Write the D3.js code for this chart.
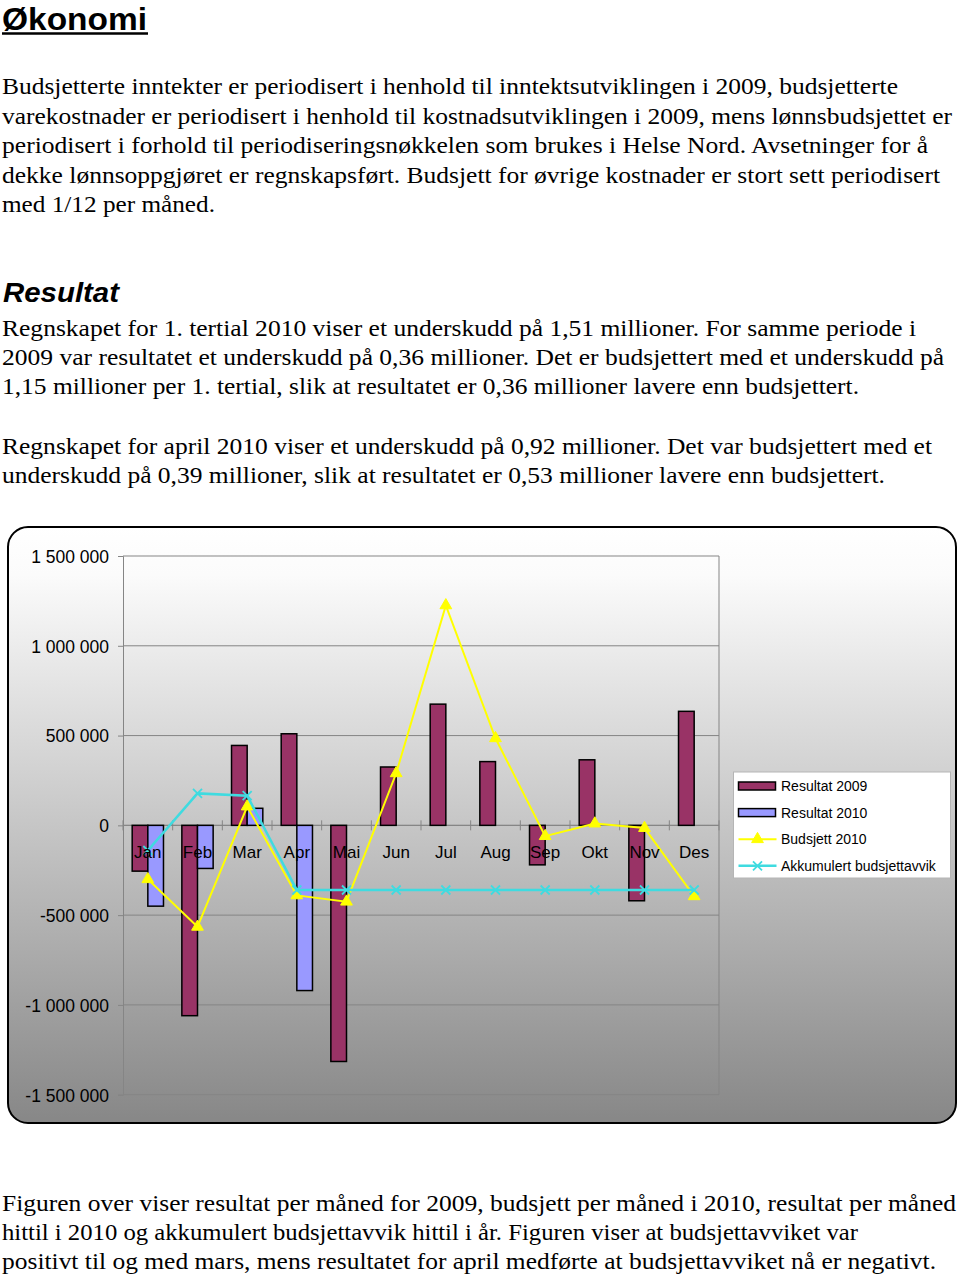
<!DOCTYPE html>
<html>
<head>
<meta charset="utf-8">
<script src="https://cdn.jsdelivr.net/npm/d3@7"></script>
<style>
  html, body { margin: 0; padding: 0; background: #ffffff; }
  svg { display: block; }
</style>
</head>
<body>
<div id="page"></div>
<script>
// ---------- DATA ----------
const months = ["Jan", "Feb", "Mar", "Apr", "Mai", "Jun", "Jul", "Aug", "Sep", "Okt", "Nov", "Des"];
const resultat2009 = [-255000, -1060000, 445000, 510000, -1315000, 325000, 675000, 355000, -220000, 365000, -420000, 635000];
const resultat2010 = [-450000, -240000, 95000, -920000];
const budsjett2010 = [-300000, -565000, 105000, -390000, -425000, 290000, 1225000, 485000, -60000, 10000, -15000, -395000];
const akkumulert = [-140000, 178000, 165000, -360000, -360000, -360000, -360000, -360000, -360000, -360000, -360000, -360000];
const yTicks = [-1500000, -1000000, -500000, 0, 500000, 1000000, 1500000];
const seriesNames = ["Resultat 2009", "Resultat 2010", "Budsjett 2010", "Akkumulert budsjettavvik"];

const title = "Økonomi";
const para1 = [
  "Budsjetterte inntekter er periodisert i henhold til inntektsutviklingen i 2009, budsjetterte",
  "varekostnader er periodisert i henhold til kostnadsutviklingen i 2009, mens lønnsbudsjettet er",
  "periodisert i forhold til periodiseringsnøkkelen som brukes i Helse Nord. Avsetninger for å",
  "dekke lønnsoppgjøret er regnskapsført. Budsjett for øvrige kostnader er stort sett periodisert",
  "med 1/12 per måned."
];
const heading2 = "Resultat";
const para2 = [
  "Regnskapet for 1. tertial 2010 viser et underskudd på 1,51 millioner. For samme periode i",
  "2009 var resultatet et underskudd på 0,36 millioner. Det er budsjettert med et underskudd på",
  "1,15 millioner per 1. tertial, slik at resultatet er 0,36 millioner lavere enn budsjettert."
];
const para3 = [
  "Regnskapet for april 2010 viser et underskudd på 0,92 millioner. Det var budsjettert med et",
  "underskudd på 0,39 millioner, slik at resultatet er 0,53 millioner lavere enn budsjettert."
];
const para4 = [
  "Figuren over viser resultat per måned for 2009, budsjett per måned i 2010, resultat per måned",
  "hittil i 2010 og akkumulert budsjettavvik hittil i år. Figuren viser at budsjettavviket var",
  "positivt til og med mars, mens resultatet for april medførte at budsjettavviket nå er negativt."
];

// ---------- LAYOUT ----------
const W = 960, H = 1281;
const svg = d3.select("#page").append("svg").attr("width", W).attr("height", H);

const SERIF = '"Liberation Serif", "Times New Roman", Tinos, serif';
const SANS = '"Liberation Sans", Arial, sans-serif';

// Title
svg.append("text").attr("x", 2).attr("y", 29.5)
  .attr("font-family", SANS).attr("font-weight", "bold").attr("font-size", 32)
  .attr("textLength", 145).attr("lengthAdjust", "spacingAndGlyphs")
  .attr("fill", "#000").text(title);
svg.append("line").attr("x1", 2).attr("x2", 148).attr("y1", 33.5).attr("y2", 33.5)
  .attr("stroke", "#000").attr("stroke-width", 2.5);

function paragraph(lines, baselines, widths) {
  lines.forEach((t, i) => {
    svg.append("text").attr("x", 2).attr("y", baselines[i])
      .attr("font-family", SERIF).attr("font-size", 23).attr("fill", "#000")
      .attr("textLength", widths[i] - 2).attr("lengthAdjust", "spacingAndGlyphs")
      .text(t);
  });
}
paragraph(para1, [94, 123.5, 153, 182.5, 212], [898, 952, 928, 940, 215]);
svg.append("text").attr("x", 3).attr("y", 301.5)
  .attr("font-family", SANS).attr("font-weight", "bold").attr("font-style", "italic")
  .attr("font-size", 28).attr("textLength", 116).attr("lengthAdjust", "spacingAndGlyphs")
  .text(heading2);
paragraph(para2, [336, 365, 394], [916, 944, 859]);
paragraph(para3, [453.5, 482.5], [932, 885]);
paragraph(para4, [1211, 1240, 1269], [956, 858, 936]);

// ---------- CHART ----------
const defs = svg.append("defs");
const grad = defs.append("linearGradient").attr("id", "bg").attr("x1", 0).attr("x2", 0).attr("y1", 0).attr("y2", 1);
grad.append("stop").attr("offset", "0%").attr("stop-color", "#ffffff");
grad.append("stop").attr("offset", "8%").attr("stop-color", "#fbfbfb");
grad.append("stop").attr("offset", "100%").attr("stop-color", "#878787");

svg.append("rect").attr("x", 8).attr("y", 527).attr("width", 948).attr("height", 596)
  .attr("rx", 20).attr("ry", 20).attr("fill", "url(#bg)").attr("stroke", "#000").attr("stroke-width", 2);

const plot = { left: 123, right: 719, top: 556, bottom: 1094.7 };

const x = d3.scaleBand().domain(months).range([plot.left, plot.right]).paddingInner(0).paddingOuter(0);
const y = d3.scaleLinear().domain([-1500000, 1500000]).range([plot.bottom, plot.top]);
const bw = x.bandwidth();
const sub = d3.scaleBand().domain(["r2009", "r2010"]).range([bw * 0.185, bw * 0.815]).padding(0);

const g = svg.append("g");

// gridlines
g.selectAll("line.grid").data(yTicks).join("line").attr("class", "grid")
  .attr("x1", plot.left).attr("x2", plot.right)
  .attr("y1", d => y(d)).attr("y2", d => y(d))
  .attr("stroke", "#858585").attr("stroke-width", 1);

// right plot border
g.append("line").attr("x1", plot.right).attr("x2", plot.right).attr("y1", plot.top).attr("y2", plot.bottom)
  .attr("stroke", "#858585").attr("stroke-width", 1);

// y axis
const fmt = d => (d < 0 ? "-" : "") + d3.format(",")(Math.abs(d)).replace(/,/g, " ");
const yAxis = d3.axisLeft(y).tickValues(yTicks).tickSize(5).tickPadding(9).tickFormat(fmt);
const yg = g.append("g").attr("transform", `translate(${plot.left},0)`).call(yAxis);
yg.select(".domain").attr("stroke", "#858585");
yg.selectAll(".tick line").attr("stroke", "#858585");
yg.selectAll(".tick text").attr("font-family", SANS).attr("font-size", 17.5).attr("fill", "#000").attr("dy", "0.36em");

// x axis (line at zero with cross ticks at category boundaries)
g.append("line").attr("x1", plot.left).attr("x2", plot.right).attr("y1", y(0)).attr("y2", y(0))
  .attr("stroke", "#858585").attr("stroke-width", 1);
const boundaries = months.map(m => x(m)).concat([x(months[months.length - 1]) + bw]);
g.selectAll("line.xtick").data(boundaries).join("line").attr("class", "xtick")
  .attr("x1", d => d).attr("x2", d => d).attr("y1", y(0) - 5).attr("y2", y(0) + 5)
  .attr("stroke", "#858585");

// bars
const barData = [];
months.forEach((m, i) => {
  barData.push({ m, key: "r2009", v: resultat2009[i] });
  if (i < resultat2010.length) barData.push({ m, key: "r2010", v: resultat2010[i] });
});
const barColor = { r2009: "#993366", r2010: "#9999ff" };
g.selectAll("rect.bar").data(barData).join("rect").attr("class", "bar")
  .attr("x", d => x(d.m) + sub(d.key))
  .attr("width", sub.bandwidth())
  .attr("y", d => Math.min(y(d.v), y(0)))
  .attr("height", d => Math.abs(y(d.v) - y(0)))
  .attr("fill", d => barColor[d.key]).attr("stroke", "#000").attr("stroke-width", 1.5);

const cx = m => x(m) + bw / 2;
const triangle = d3.symbol().type(d3.symbolTriangle).size(60);

// Budsjett 2010 line
const lineB = d3.line().x((d, i) => cx(months[i])).y(d => y(d));
g.append("path").datum(budsjett2010).attr("d", lineB).attr("fill", "none")
  .attr("stroke", "#ffff00").attr("stroke-width", 2);
g.selectAll("path.tri").data(budsjett2010).join("path").attr("class", "tri")
  .attr("d", triangle).attr("transform", (d, i) => `translate(${cx(months[i])},${y(d)})`)
  .attr("fill", "#ffff00").attr("stroke", "#ffff00").attr("stroke-width", 1);

// Akkumulert line
const cyan = "#3fdbe0";
g.append("path").datum(akkumulert).attr("d", lineB).attr("fill", "none")
  .attr("stroke", cyan).attr("stroke-width", 2.5);
function drawX(sel, s) {
  sel.append("path").attr("d", `M${-s},${-s}L${s},${s}M${-s},${s}L${s},${-s}`)
    .attr("stroke", cyan).attr("stroke-width", 1.8).attr("fill", "none");
}
g.selectAll("g.xm").data(akkumulert).join("g").attr("class", "xm")
  .attr("transform", (d, i) => `translate(${cx(months[i])},${y(d)})`)
  .each(function () { drawX(d3.select(this), 4.5); });

// month labels
g.selectAll("text.month").data(months).join("text").attr("class", "month")
  .attr("x", d => cx(d)).attr("y", y(0) + 32.5).attr("text-anchor", "middle")
  .attr("font-family", SANS).attr("font-size", 17).attr("fill", "#000").text(d => d);

// legend
const lg = svg.append("g").attr("transform", "translate(733.5,772)");
lg.append("rect").attr("width", 217).attr("height", 106).attr("fill", "#fff").attr("stroke", "#b5b5b5");
const rowY = i => 14 + i * 26.6;
seriesNames.forEach((name, i) => {
  const ry = rowY(i);
  if (i < 2) {
    lg.append("rect").attr("x", 5).attr("y", ry - 4).attr("width", 37).attr("height", 8)
      .attr("fill", i === 0 ? barColor.r2009 : barColor.r2010).attr("stroke", "#000").attr("stroke-width", 1.5);
  } else if (i === 2) {
    lg.append("line").attr("x1", 5).attr("x2", 43).attr("y1", ry).attr("y2", ry).attr("stroke", "#ffff00").attr("stroke-width", 2);
    lg.append("path").attr("d", triangle).attr("transform", `translate(24,${ry})`).attr("fill", "#ffff00").attr("stroke", "#ffff00");
  } else {
    lg.append("line").attr("x1", 5).attr("x2", 43).attr("y1", ry).attr("y2", ry).attr("stroke", cyan).attr("stroke-width", 2.5);
    const mg = lg.append("g").attr("transform", `translate(24,${ry})`);
    drawX(mg, 4.5);
  }
  lg.append("text").attr("x", 47.5).attr("y", ry + 5).attr("font-family", SANS).attr("font-size", 14)
    .attr("fill", "#000").text(name);
});
</script>
</body>
</html>
